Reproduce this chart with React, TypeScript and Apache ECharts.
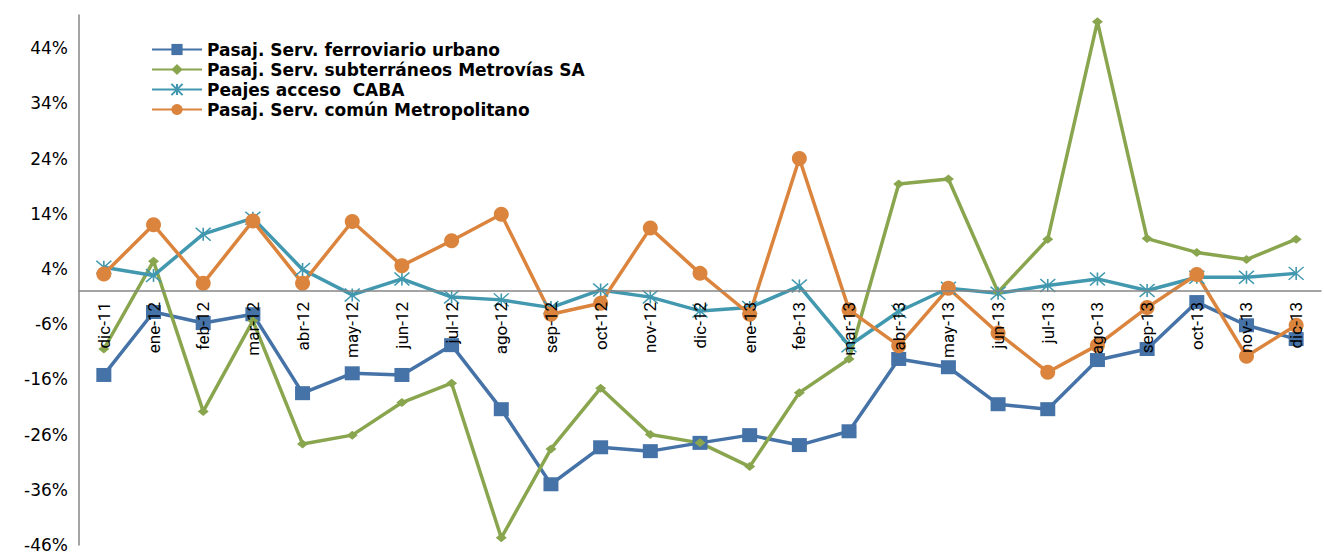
import React, { useEffect, useRef } from "react";
import * as echarts from "echarts";

const categories = [
  "dic-11", "ene-12", "feb-12", "mar-12", "abr-12", "may-12", "jun-12", "jul-12", "ago-12",
  "sep-12", "oct-12", "nov-12", "dic-12", "ene-13", "feb-13", "mar-13", "abr-13", "may-13",
  "jun-13", "jul-13", "ago-13", "sep-13", "oct-13", "nov-13", "dic-13",
];

const ferroviario = [
  -15.2, -3.8, -5.8, -4.2, -18.5, -14.9, -15.2, -9.8, -21.4, -35.0, -28.3, -29.0, -27.5,
  -26.1, -27.9, -25.4, -12.3, -13.8, -20.5, -21.4, -12.5, -10.5, -2.0, -6.2, -8.7,
];

const subterraneos = [
  -10.5, 5.4, -21.8, -5.4, -27.7, -26.1, -20.2, -16.7, -44.7, -28.6, -17.6, -26.0, -27.5,
  -31.8, -18.4, -12.3, 19.4, 20.3, -0.2, 9.4, 48.8, 9.5, 7.0, 5.7, 9.4,
];

const peajes = [
  4.3, 2.8, 10.3, 13.2, 3.9, -0.7, 2.2, -1.1, -1.6, -3.0, 0.2, -1.1, -3.6,
  -3.0, 0.9, -9.9, -3.7, 0.5, -0.4, 1.0, 2.2, 0.1, 2.5, 2.5, 3.2,
];

const comun = [
  3.1, 12.0, 1.4, 12.7, 1.4, 12.6, 4.6, 9.1, 13.9, -4.2, -2.2, 11.4, 3.2,
  -4.2, 24.0, -3.4, -9.9, 0.5, -7.6, -14.7, -9.8, -3.0, 3.0, -11.8, -6.2,
];

const seriesNames = [
  "Pasaj. Serv. ferroviario urbano",
  "Pasaj. Serv. subterráneos Metrovías SA",
  "Peajes acceso  CABA",
  "Pasaj. Serv. común Metropolitano",
];

const colors = ["#4572A7", "#89A54E", "#4198AF", "#DB843D"];

const asterisk = "path://M0,0L10,10M10,0L0,10M5,0L5,10";

const Y_MIN = -46;
const Y_MAX = 50;

export default function App() {
  const ref = useRef<HTMLDivElement>(null);

  useEffect(() => {
    if (!ref.current) return;
    const chart = echarts.init(ref.current, undefined, { renderer: "svg" });
    const lineW = 3.5;
    const gridTop = 15;
    const gridBottom = 7;
    const gridH = 552 - gridTop - gridBottom;
    const zeroFromBottom = (gridH * (0 - Y_MIN)) / (Y_MAX - Y_MIN);
    chart.setOption({
      animation: false,
      backgroundColor: "#ffffff",
      color: colors,
      grid: {
        left: 79,
        right: 3,
        top: gridTop,
        bottom: gridBottom,
        containLabel: false,
        outerBoundsMode: "none",
      },
      legend: {
        orient: "vertical",
        left: 146,
        top: 36,
        itemWidth: 50,
        itemHeight: 14,
        itemGap: 3,
        textStyle: {
          fontFamily: "DejaVu Sans",
          fontWeight: "bold",
          fontSize: 17,
          color: "#000",
        },
        data: seriesNames,
      },
      xAxis: {
        type: "category",
        data: categories,
        boundaryGap: true,
        z: 10,
        offset: -zeroFromBottom,
        axisLine: { onZero: false, lineStyle: { color: "#868686", width: 1.5 } },
        axisTick: { show: false },
        axisLabel: {
          rotate: 90,
          margin: 11,
          fontFamily: "Roboto",
          fontSize: 17,
          color: "#000",
          interval: 0,
        },
        splitLine: { show: false },
      },
      yAxis: {
        type: "value",
        min: Y_MIN,
        max: Y_MAX,
        interval: 10,
        axisLine: { show: true, lineStyle: { color: "#868686", width: 1.5 } },
        axisTick: { show: false },
        splitLine: { show: false },
        axisLabel: {
          showMaxLabel: false,
          formatter: (v: number) => `${v}%`,
          margin: 11,
          fontFamily: "DejaVu Sans",
          fontSize: 17,
          color: "#000",
        },
      },
      series: [
        {
          name: seriesNames[0],
          type: "line",
          data: ferroviario,
          symbol: "rect",
          symbolSize: [15, 14],
          lineStyle: { width: lineW, color: colors[0] },
          itemStyle: { color: colors[0] },
        },
        {
          name: seriesNames[1],
          type: "line",
          data: subterraneos,
          symbol: "diamond",
          symbolSize: [11, 9],
          lineStyle: { width: lineW, color: colors[1] },
          itemStyle: { color: colors[1] },
        },
        {
          name: seriesNames[2],
          type: "line",
          data: peajes,
          symbol: asterisk,
          symbolSize: [15, 13],
          lineStyle: { width: lineW, color: colors[2] },
          itemStyle: { color: "none", borderColor: colors[2], borderWidth: 1.5 },
        },
        {
          name: seriesNames[3],
          type: "line",
          data: comun,
          symbol: "circle",
          symbolSize: 15,
          lineStyle: { width: lineW, color: colors[3] },
          itemStyle: { color: colors[3] },
        },
      ],
    });
    return () => chart.dispose();
  }, []);

  return (
    <div
      ref={ref}
      style={{ position: "fixed", left: 0, top: 0, width: 1324, height: 552 }}
    />
  );
}
